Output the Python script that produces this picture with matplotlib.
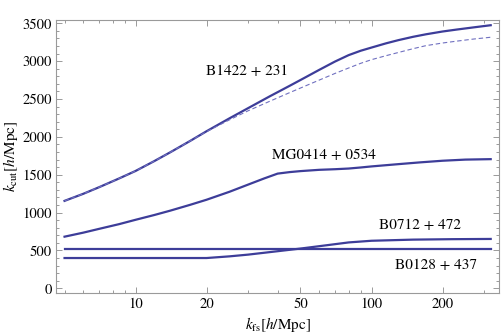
import numpy as np
import matplotlib
matplotlib.use('Agg')
import matplotlib.pyplot as plt
from matplotlib.ticker import FixedLocator, NullFormatter

plt.rcParams['font.family'] = 'STIXGeneral'
plt.rcParams['mathtext.fontset'] = 'stix'

# values (k_fs in h/Mpc, k_cut in h/Mpc)
k_b1422 = [5, 6, 7, 8.5, 10, 12, 14, 17, 20, 25, 30, 37, 45, 52, 60, 70, 80, 90, 100, 115, 130, 150, 170, 200, 230, 270, 320]
b1422 = [1155, 1248, 1335, 1450, 1550, 1680, 1795, 1945, 2075, 2245, 2380, 2535, 2675, 2780, 2885, 2995, 3080, 3138, 3180, 3235, 3278, 3322, 3355, 3392, 3418, 3446, 3475]

k_b1422_dash = [5, 6, 7, 8.5, 10, 12, 14, 17, 20, 25, 30, 37, 45, 52, 60, 70, 80, 90, 100, 115, 130, 150, 170, 200, 230, 270, 320]
b1422_dash = [1155, 1248, 1335, 1450, 1550, 1680, 1795, 1945, 2070, 2225, 2345, 2470, 2585, 2668, 2750, 2838, 2910, 2972, 3020, 3072, 3115, 3165, 3205, 3240, 3265, 3292, 3316]

k_mg0414 = [5, 6, 7, 8.5, 10, 12, 14, 17, 20, 25, 30, 35, 40, 45, 50, 60, 70, 80, 90, 100, 130, 160, 200, 250, 320]
mg0414 = [682, 735, 785, 847, 905, 968, 1025, 1102, 1170, 1275, 1370, 1450, 1515, 1535, 1548, 1565, 1573, 1582, 1596, 1610, 1640, 1663, 1685, 1700, 1706]

k_b0712 = [5, 10, 20, 25, 30, 40, 50, 65, 80, 100, 150, 220, 320]
b0712 = [400, 400, 400, 422, 445, 490, 525, 570, 606, 628, 643, 649, 652]

k_b0128 = [5, 320]
b0128 = [520, 520]

labels = ['B1422 + 231', 'MG0414 + 0534', 'B0712 + 472', 'B0128 + 437']
label_pos = [(29.7, 2870), (62.8, 1761), (160, 836), (187, 308)]

line_c = '#3d3d99'
frame_c = '#9a9a9a'

fig = plt.figure(figsize=(5.01, 3.35), dpi=100)
ax = fig.add_axes([56 / 501, 1 - 293 / 335, 443 / 501, 273 / 335])

ax.plot(k_b1422, b1422, color=line_c, lw=1.6)
ax.plot(k_b1422_dash, b1422_dash, color='#7070c0', lw=0.8, dashes=(4, 2.5))
ax.plot(k_mg0414, mg0414, color=line_c, lw=1.6)
ax.plot(k_b0712, b0712, color=line_c, lw=1.6)
ax.plot(k_b0128, b0128, color=line_c, lw=1.6)

for txt, (x, y) in zip(labels, label_pos):
    ax.text(x, y, txt, ha='center', va='center', fontsize=11)

ax.set_xscale('log')
ax.set_xlim(4.6, 347)
ax.set_ylim(-62, 3544)

ax.xaxis.set_major_locator(FixedLocator([10, 20, 50, 100, 200]))
ax.xaxis.set_major_formatter(matplotlib.ticker.FixedFormatter(['10', '20', '50', '100', '200']))
ax.xaxis.set_minor_locator(FixedLocator([5, 6, 7, 8, 9, 30, 40, 60, 70, 80, 90, 300]))
ax.xaxis.set_minor_formatter(NullFormatter())
ax.set_yticks(np.arange(0, 3501, 500))
ax.yaxis.set_minor_locator(FixedLocator(np.arange(0, 3501, 100)))

for s in ax.spines.values():
    s.set_color(frame_c)
    s.set_linewidth(0.8)
ax.tick_params(which='both', direction='in', top=True, right=True, color=frame_c,
               labelsize=10.5, width=0.7)
ax.tick_params(which='major', length=4, pad=3)
ax.tick_params(which='minor', length=2)

ax.set_xlabel(r'$k_{\rm fs}[h/{\rm Mpc}]$', fontsize=11, labelpad=3)
ax.set_ylabel(r'$k_{\rm cut}[h/{\rm Mpc}]$', fontsize=11, labelpad=2)

fig.savefig('out.png', dpi=100)
